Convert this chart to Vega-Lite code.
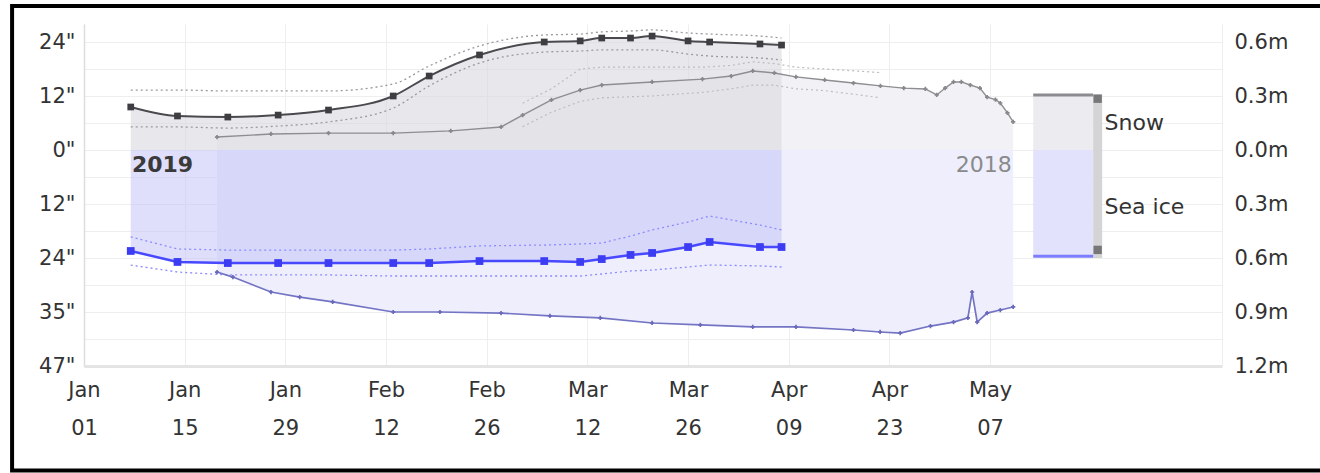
{
  "$schema": "https://vega.github.io/schema/vega-lite/v6.json",
  "width": 1138,
  "height": 342,
  "autosize": {"type": "none"},
  "padding": {"left": 84, "top": 24, "right": 98, "bottom": 107},
  "background": "white",
  "config": {"view": {"stroke": null}, "font": "DejaVu Sans"},
  "datasets": {
    "frame": [{"date": "2018-12-22", "date2": "2019-07-05", "top": 0.8, "bottom": -1.78}],
    "d19": [
      {"date": "2019-01-07T12:00Z", "snow": 0.239, "snowHi": 0.333, "snowLo": 0.128, "ice": -0.561, "iceHi": -0.483, "iceLo": -0.639},
      {"date": "2019-01-14", "snow": 0.189, "snowHi": 0.333, "snowLo": 0.128, "ice": -0.622, "iceHi": -0.55, "iceLo": -0.678},
      {"date": "2019-01-21", "snow": 0.183, "snowHi": 0.328, "snowLo": 0.122, "ice": -0.628, "iceHi": -0.556, "iceLo": -0.694},
      {"date": "2019-01-28", "snow": 0.194, "snowHi": 0.328, "snowLo": 0.133, "ice": -0.628, "iceHi": -0.556, "iceLo": -0.694},
      {"date": "2019-02-04", "snow": 0.222, "snowHi": 0.328, "snowLo": 0.156, "ice": -0.628, "iceHi": -0.556, "iceLo": -0.694},
      {"date": "2019-02-13", "snow": 0.3, "snowHi": 0.367, "snowLo": 0.233, "ice": -0.628, "iceHi": -0.556, "iceLo": -0.7},
      {"date": "2019-02-18", "snow": 0.411, "snowHi": 0.467, "snowLo": 0.356, "ice": -0.628, "iceHi": -0.55, "iceLo": -0.7},
      {"date": "2019-02-25", "snow": 0.528, "snowHi": 0.578, "snowLo": 0.483, "ice": -0.617, "iceHi": -0.533, "iceLo": -0.7},
      {"date": "2019-03-06", "snow": 0.6, "snowHi": 0.639, "snowLo": 0.544, "ice": -0.617, "iceHi": -0.528, "iceLo": -0.7},
      {"date": "2019-03-11", "snow": 0.606, "snowHi": 0.644, "snowLo": 0.55, "ice": -0.622, "iceHi": -0.522, "iceLo": -0.7},
      {"date": "2019-03-14", "snow": 0.622, "snowHi": 0.656, "snowLo": 0.556, "ice": -0.606, "iceHi": -0.517, "iceLo": -0.689},
      {"date": "2019-03-18", "snow": 0.622, "snowHi": 0.661, "snowLo": 0.556, "ice": -0.583, "iceHi": -0.478, "iceLo": -0.672},
      {"date": "2019-03-21", "snow": 0.633, "snowHi": 0.667, "snowLo": 0.556, "ice": -0.572, "iceHi": -0.444, "iceLo": -0.667},
      {"date": "2019-03-26", "snow": 0.606, "snowHi": 0.65, "snowLo": 0.533, "ice": -0.539, "iceHi": -0.4, "iceLo": -0.65},
      {"date": "2019-03-29", "snow": 0.6, "snowHi": 0.644, "snowLo": 0.522, "ice": -0.511, "iceHi": -0.367, "iceLo": -0.639},
      {"date": "2019-04-05", "snow": 0.589, "snowHi": 0.633, "snowLo": 0.511, "ice": -0.539, "iceHi": -0.417, "iceLo": -0.644},
      {"date": "2019-04-08", "snow": 0.583, "snowHi": 0.622, "snowLo": 0.5, "ice": -0.539, "iceHi": -0.444, "iceLo": -0.65}
    ],
    "s18": [
      {"date": "2019-01-19T12:00Z", "snow": 0.072},
      {"date": "2019-01-27", "snow": 0.089},
      {"date": "2019-02-04", "snow": 0.094},
      {"date": "2019-02-13", "snow": 0.094},
      {"date": "2019-02-21", "snow": 0.106},
      {"date": "2019-02-28", "snow": 0.128},
      {"date": "2019-03-03", "snow": 0.194},
      {"date": "2019-03-07", "snow": 0.278},
      {"date": "2019-03-11", "snow": 0.333},
      {"date": "2019-03-14", "snow": 0.361},
      {"date": "2019-03-21", "snow": 0.378},
      {"date": "2019-03-28", "snow": 0.394},
      {"date": "2019-04-01", "snow": 0.411},
      {"date": "2019-04-04", "snow": 0.439},
      {"date": "2019-04-07", "snow": 0.428},
      {"date": "2019-04-10", "snow": 0.406},
      {"date": "2019-04-14", "snow": 0.389},
      {"date": "2019-04-18", "snow": 0.372},
      {"date": "2019-04-21T18:00Z", "snow": 0.356},
      {"date": "2019-04-25", "snow": 0.344},
      {"date": "2019-04-28", "snow": 0.339},
      {"date": "2019-04-29T14:00Z", "snow": 0.306},
      {"date": "2019-04-30T18:00Z", "snow": 0.344},
      {"date": "2019-05-01T22:00Z", "snow": 0.378},
      {"date": "2019-05-03", "snow": 0.378},
      {"date": "2019-05-04T06:00Z", "snow": 0.361},
      {"date": "2019-05-05T14:00Z", "snow": 0.344},
      {"date": "2019-05-06T14:00Z", "snow": 0.294},
      {"date": "2019-05-07T18:00Z", "snow": 0.28},
      {"date": "2019-05-08T10:00Z", "snow": 0.261},
      {"date": "2019-05-09T10:00Z", "snow": 0.206},
      {"date": "2019-05-10T05:00Z", "snow": 0.156}
    ],
    "b18": [
      {"date": "2019-03-03", "snowHi": 0.26, "snowLo": 0.13},
      {"date": "2019-03-07", "snowHi": 0.34, "snowLo": 0.21},
      {"date": "2019-03-11", "snowHi": 0.45, "snowLo": 0.27},
      {"date": "2019-03-14", "snowHi": 0.46, "snowLo": 0.29},
      {"date": "2019-03-21", "snowHi": 0.46, "snowLo": 0.3},
      {"date": "2019-03-28", "snowHi": 0.46, "snowLo": 0.32},
      {"date": "2019-04-01", "snowHi": 0.47, "snowLo": 0.34},
      {"date": "2019-04-04", "snowHi": 0.49, "snowLo": 0.36},
      {"date": "2019-04-07", "snowHi": 0.48, "snowLo": 0.36},
      {"date": "2019-04-10", "snowHi": 0.46, "snowLo": 0.34},
      {"date": "2019-04-14", "snowHi": 0.45, "snowLo": 0.33},
      {"date": "2019-04-18", "snowHi": 0.44, "snowLo": 0.31},
      {"date": "2019-04-21T18:00Z", "snowHi": 0.43, "snowLo": 0.29}
    ],
    "i18": [
      {"date": "2019-01-19T12:00Z", "ice": -0.678},
      {"date": "2019-01-21T17:00Z", "ice": -0.706},
      {"date": "2019-01-27", "ice": -0.789},
      {"date": "2019-01-31", "ice": -0.817},
      {"date": "2019-02-04T14:00Z", "ice": -0.844},
      {"date": "2019-02-13", "ice": -0.9},
      {"date": "2019-02-19T12:00Z", "ice": -0.9},
      {"date": "2019-02-28", "ice": -0.906},
      {"date": "2019-03-06T19:00Z", "ice": -0.922},
      {"date": "2019-03-13T19:00Z", "ice": -0.933},
      {"date": "2019-03-21", "ice": -0.961},
      {"date": "2019-03-27T17:00Z", "ice": -0.972},
      {"date": "2019-04-04", "ice": -0.983},
      {"date": "2019-04-10", "ice": -0.983},
      {"date": "2019-04-18", "ice": -1.0},
      {"date": "2019-04-21T17:00Z", "ice": -1.011},
      {"date": "2019-04-24T12:00Z", "ice": -1.017},
      {"date": "2019-04-28T17:00Z", "ice": -0.978},
      {"date": "2019-05-01T22:00Z", "ice": -0.956},
      {"date": "2019-05-03T22:00Z", "ice": -0.933},
      {"date": "2019-05-04T12:00Z", "ice": -0.789},
      {"date": "2019-05-05T05:00Z", "ice": -0.956},
      {"date": "2019-05-06T14:00Z", "ice": -0.906},
      {"date": "2019-05-08T10:00Z", "ice": -0.889},
      {"date": "2019-05-10T05:00Z", "ice": -0.872}
    ],
    "legendBoxes": [
      {"date": "2019-05-13", "date2": "2019-05-21T08:00Z", "top": 0.31, "bottom": 0, "part": "Snow"},
      {"date": "2019-05-13", "date2": "2019-05-21T08:00Z", "top": 0, "bottom": -0.59, "part": "Sea ice"},
      {"date": "2019-05-21T08:00Z", "date2": "2019-05-22T14:00Z", "top": 0.31, "bottom": -0.6, "part": "bar"}
    ],
    "legendLines": [
      {"date": "2019-05-13", "date2": "2019-05-21T08:00Z", "y": 0.305, "part": "Snow"},
      {"date": "2019-05-13", "date2": "2019-05-21T08:00Z", "y": -0.59, "part": "Sea ice"}
    ],
    "legendMarks": [
      {"date": "2019-05-21T23:00Z", "y": 0.285},
      {"date": "2019-05-21T23:00Z", "y": -0.555}
    ],
    "legendLabels": [
      {"date": "2019-05-22T22:00Z", "y": 0.15, "label": "Snow"},
      {"date": "2019-05-22T22:00Z", "y": -0.317, "label": "Sea ice"}
    ]
  },
  "encoding": {
    "x": {
      "field": "date",
      "type": "temporal",
      "scale": {"type": "utc", "domain": [{"year": 2019, "month": 1, "date": 1, "utc": true}, {"year": 2019, "month": 6, "date": 8, "hours": 6, "utc": true}]},
      "axis": {
        "title": null,
        "values": [
          {"year": 2019, "month": 1, "date": 1, "utc": true},
          {"year": 2019, "month": 1, "date": 15, "utc": true},
          {"year": 2019, "month": 1, "date": 29, "utc": true},
          {"year": 2019, "month": 2, "date": 12, "utc": true},
          {"year": 2019, "month": 2, "date": 26, "utc": true},
          {"year": 2019, "month": 3, "date": 12, "utc": true},
          {"year": 2019, "month": 3, "date": 26, "utc": true},
          {"year": 2019, "month": 4, "date": 9, "utc": true},
          {"year": 2019, "month": 4, "date": 23, "utc": true},
          {"year": 2019, "month": 5, "date": 7, "utc": true}
        ],
        "labelExpr": "[utcFormat(datum.value, '%b'), utcFormat(datum.value, '%d')]",
        "labelFont": "DejaVu Sans",
        "labelFontSize": 21,
        "labelColor": "#333333",
        "labelLineHeight": 38,
        "labelPadding": 13,
        "labelFlush": false,
        "labelOverlap": false,
        "ticks": false,
        "grid": true,
        "gridColor": "#eeeeee",
        "domainColor": "#e4e4e4",
        "domainWidth": 3
      }
    }
  },
  "layer": [
    {
      "data": {"name": "frame"},
      "mark": {"type": "rect", "fillOpacity": 0, "stroke": "#000000", "strokeWidth": 4},
      "encoding": {
        "x2": {"field": "date2"},
        "y": {"field": "top", "type": "quantitative", "scale": {"domain": [-1.2, 0.7], "nice": false, "zero": false}, "axis": null},
        "y2": {"field": "bottom"}
      }
    },
    {
      "data": {"name": "s18"},
      "mark": {"type": "area", "color": "#f2f2f6", "interpolate": "linear"},
      "encoding": {
        "y": {
          "field": "snow", "type": "quantitative",
          "scale": {"domain": [-1.2, 0.7], "nice": false, "zero": false},
          "axis": {
            "orient": "left", "title": null,
            "values": [0.6, 0.45, 0.3, 0.15, 0, -0.15, -0.3, -0.45, -0.6, -0.75, -0.9, -1.05, -1.2],
            "labelExpr": "abs(datum.value*100) % 30 < 1 ? round(abs(datum.value)*39.37) + '\"' : ''",
            "labelFont": "DejaVu Sans", "labelFontSize": 21, "labelColor": "#333333",
            "labelPadding": 9, "labelOverlap": false, "labelFlush": false,
            "ticks": false, "grid": true, "gridColor": "#eeeeee",
            "domainColor": "#dddddd", "domainWidth": 1.5
          }
        },
        "y2": {"datum": 0}
      }
    },
    {
      "data": {"name": "i18"},
      "mark": {"type": "area", "color": "#eeeefd", "interpolate": "linear"},
      "encoding": {
        "y": {
          "field": "ice", "type": "quantitative",
          "scale": {"domain": [-1.2, 0.7], "nice": false, "zero": false},
          "axis": {
            "orient": "right", "title": null,
            "values": [0.6, 0.45, 0.3, 0.15, 0, -0.15, -0.3, -0.45, -0.6, -0.75, -0.9, -1.05, -1.2],
            "labelExpr": "abs(datum.value*100) % 30 < 1 ? format(abs(datum.value), '.1f') + 'm' : ''",
            "labelFont": "DejaVu Sans", "labelFontSize": 21, "labelColor": "#333333",
            "labelPadding": 12, "labelOverlap": false, "labelFlush": false,
            "ticks": false, "grid": false,
            "domainColor": "#eeeeee", "domainWidth": 1
          }
        },
        "y2": {"datum": 0}
      }
    },
    {
      "data": {"name": "d19"},
      "mark": {"type": "area", "color": "#d8d8e0", "opacity": 0.6, "interpolate": "monotone"},
      "encoding": {
        "y": {"field": "snow", "type": "quantitative", "scale": {"domain": [-1.2, 0.7], "nice": false, "zero": false}, "axis": null},
        "y2": {"datum": 0}
      }
    },
    {
      "data": {"name": "d19"},
      "mark": {"type": "area", "color": "#c4c4f8", "opacity": 0.55, "interpolate": "linear"},
      "encoding": {
        "y": {"field": "ice", "type": "quantitative", "scale": {"domain": [-1.2, 0.7], "nice": false, "zero": false}, "axis": null},
        "y2": {"datum": 0}
      }
    },
    {
      "data": {"name": "b18"},
      "transform": [{"fold": ["snowHi", "snowLo"], "as": ["bound", "v"]}],
      "mark": {"type": "line", "color": "#bcbcc0", "strokeWidth": 1.2, "strokeDash": [2, 3]},
      "encoding": {
        "y": {"field": "v", "type": "quantitative", "scale": {"domain": [-1.2, 0.7], "nice": false, "zero": false}, "axis": null},
        "detail": {"field": "bound"}
      }
    },
    {
      "data": {"name": "d19"},
      "transform": [{"fold": ["snowHi", "snowLo"], "as": ["bound", "v"]}],
      "mark": {"type": "line", "color": "#9a9a9e", "strokeWidth": 1.3, "strokeDash": [2, 3], "interpolate": "monotone"},
      "encoding": {
        "y": {"field": "v", "type": "quantitative", "scale": {"domain": [-1.2, 0.7], "nice": false, "zero": false}, "axis": null},
        "detail": {"field": "bound"}
      }
    },
    {
      "data": {"name": "d19"},
      "transform": [{"fold": ["iceHi", "iceLo"], "as": ["bound", "v"]}],
      "mark": {"type": "line", "color": "#8c8cff", "strokeWidth": 1.3, "strokeDash": [2, 3]},
      "encoding": {
        "y": {"field": "v", "type": "quantitative", "scale": {"domain": [-1.2, 0.7], "nice": false, "zero": false}, "axis": null},
        "detail": {"field": "bound"}
      }
    },
    {
      "data": {"name": "s18"},
      "mark": {"type": "line", "color": "#8e8e92", "strokeWidth": 1.4, "point": {"shape": "cross", "size": 18, "color": "#88888c", "filled": true}},
      "encoding": {
        "y": {"field": "snow", "type": "quantitative", "scale": {"domain": [-1.2, 0.7], "nice": false, "zero": false}, "axis": null}
      }
    },
    {
      "data": {"name": "i18"},
      "mark": {"type": "line", "color": "#7474c4", "strokeWidth": 1.7, "point": {"shape": "cross", "size": 18, "color": "#6a6abc", "filled": true}},
      "encoding": {
        "y": {"field": "ice", "type": "quantitative", "scale": {"domain": [-1.2, 0.7], "nice": false, "zero": false}, "axis": null}
      }
    },
    {
      "data": {"name": "d19"},
      "mark": {"type": "line", "color": "#4a4a4e", "strokeWidth": 2, "interpolate": "monotone", "point": {"shape": "square", "size": 45, "color": "#3e3e42", "filled": true}},
      "encoding": {
        "y": {"field": "snow", "type": "quantitative", "scale": {"domain": [-1.2, 0.7], "nice": false, "zero": false}, "axis": null}
      }
    },
    {
      "data": {"name": "d19"},
      "mark": {"type": "line", "color": "#4848ff", "strokeWidth": 2.5, "point": {"shape": "square", "size": 60, "color": "#3c3cf2", "filled": true}},
      "encoding": {
        "y": {"field": "ice", "type": "quantitative", "scale": {"domain": [-1.2, 0.7], "nice": false, "zero": false}, "axis": null}
      }
    },
    {
      "data": {"values": [{"date": "2019-01-07T16:00Z", "y": -0.083, "label": "2019"}]},
      "mark": {"type": "text", "align": "left", "baseline": "middle", "font": "DejaVu Sans", "fontSize": 22, "fontWeight": "bold", "color": "#3a3a3a"},
      "encoding": {
        "y": {"field": "y", "type": "quantitative", "scale": {"domain": [-1.2, 0.7], "nice": false, "zero": false}, "axis": null},
        "text": {"field": "label"}
      }
    },
    {
      "data": {"values": [{"date": "2019-05-10", "y": -0.083, "label": "2018"}]},
      "mark": {"type": "text", "align": "right", "baseline": "middle", "font": "DejaVu Sans", "fontSize": 22, "color": "#8a8a8a"},
      "encoding": {
        "y": {"field": "y", "type": "quantitative", "scale": {"domain": [-1.2, 0.7], "nice": false, "zero": false}, "axis": null},
        "text": {"field": "label"}
      }
    },
    {
      "data": {"name": "legendBoxes"},
      "mark": {"type": "rect"},
      "encoding": {
        "x2": {"field": "date2"},
        "y": {"field": "top", "type": "quantitative", "scale": {"domain": [-1.2, 0.7], "nice": false, "zero": false}, "axis": null},
        "y2": {"field": "bottom"},
        "color": {"field": "part", "type": "nominal", "scale": {"domain": ["Snow", "Sea ice", "bar"], "range": ["#ebebf0", "#e2e2fc", "#d4d4d6"]}, "legend": null}
      }
    },
    {
      "data": {"name": "legendLines"},
      "mark": {"type": "rule", "strokeWidth": 3},
      "encoding": {
        "x2": {"field": "date2"},
        "y": {"field": "y", "type": "quantitative", "scale": {"domain": [-1.2, 0.7], "nice": false, "zero": false}, "axis": null},
        "color": {"field": "part", "type": "nominal", "scale": {"domain": ["Snow", "Sea ice"], "range": ["#8c8c90", "#7c7cff"]}, "legend": null}
      }
    },
    {
      "data": {"name": "legendMarks"},
      "mark": {"type": "point", "shape": "square", "filled": true, "size": 70, "color": "#77777a", "opacity": 1},
      "encoding": {
        "y": {"field": "y", "type": "quantitative", "scale": {"domain": [-1.2, 0.7], "nice": false, "zero": false}, "axis": null}
      }
    },
    {
      "data": {"name": "legendLabels"},
      "mark": {"type": "text", "align": "left", "baseline": "middle", "font": "DejaVu Sans", "fontSize": 22, "color": "#333333"},
      "encoding": {
        "y": {"field": "y", "type": "quantitative", "scale": {"domain": [-1.2, 0.7], "nice": false, "zero": false}, "axis": null},
        "text": {"field": "label"}
      }
    }
  ],
  "resolve": {"axis": {"y": "independent"}, "scale": {"color": "independent"}}
}
